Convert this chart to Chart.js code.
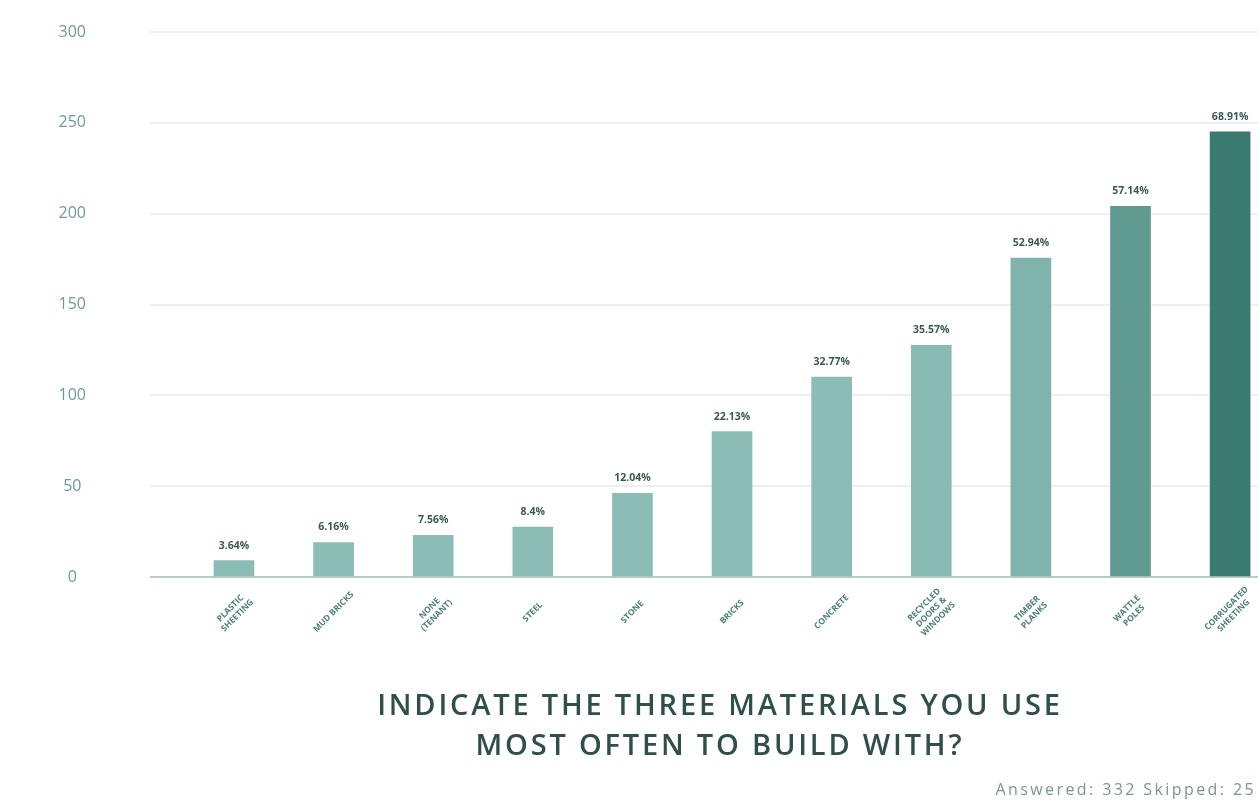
<!DOCTYPE html>
<html>
<head>
<meta charset="utf-8">
<script src="https://cdn.jsdelivr.net/npm/chart.js@4.4.1/dist/chart.umd.min.js"></script>
<style>
  html, body { margin: 0; padding: 0; background: #fff; overflow: hidden; }
  #wrap { position: relative; width: 1258px; height: 805px; }
  #barChart { display: block; }
  #title {
    position: absolute; left: 260px; width: 920px; top: 684px;
    text-align: center; font-family: "Open Sans", sans-serif; font-weight: 600;
    font-size: 29px; line-height: 40px; color: #2f4f4b; letter-spacing: 2.8px;
  }
  #footer {
    position: absolute; right: 2px; top: 778px;
    font-family: "Open Sans", sans-serif; font-size: 16px; color: #7a9793;
    letter-spacing: 2.4px;
  }
</style>
</head>
<body>
<div id="wrap">
  <canvas id="barChart" width="1258" height="805"></canvas>
  <div id="title">INDICATE THE THREE MATERIALS YOU USE<br>MOST OFTEN TO BUILD WITH?</div>
  <div id="footer">Answered: 332 Skipped: 25</div>
</div>
<script>
// categories (multi-line labels under each bar)
const categories = [
  ['PLASTIC', 'SHEETING'],
  ['MUD BRICKS'],
  ['NONE', '(TENANT)'],
  ['STEEL'],
  ['STONE'],
  ['BRICKS'],
  ['CONCRETE'],
  ['RECYCLED', 'DOORS &', 'WINDOWS'],
  ['TIMBER', 'PLANKS'],
  ['WATTLE', 'POLES'],
  ['CORRUGATED', 'SHEETING']
];
// responses per material
const counts = [9, 19, 23, 27.5, 46, 80, 110, 127.5, 175.5, 204, 245];
// percentages printed above the bars
const percents = ['3.64%', '6.16%', '7.56%', '8.4%', '12.04%', '22.13%', '32.77%', '35.57%', '52.94%', '57.14%', '68.91%'];
const yTicks = [0, 50, 100, 150, 200, 250, 300];

const barColors = ['#8bbcb5', '#8bbcb5', '#8bbcb5', '#8bbcb5', '#8bbcb5', '#8bbcb5',
                   '#8bbcb5', '#89bbb4', '#7fb3ab', '#5f9b91', '#3b7a70'];

// draws the rotated category labels and the percent labels
const labelPlugin = {
  id: 'labelPlugin',
  afterDatasetsDraw(chart) {
    const ctx = chart.ctx;
    const xs = chart.scales.x, ys = chart.scales.y;
    ctx.save();
    counts.forEach((v, i) => {
      const px = xs.getPixelForValue(i + 1);
      const top = ys.getPixelForValue(v);
      ctx.fillStyle = '#3a5956';
      ctx.font = 'bold 10.5px "Open Sans", sans-serif';
      ctx.textAlign = 'center';
      ctx.textBaseline = 'middle';
      ctx.fillText(percents[i], px, top - 15);

      const lines = categories[i];
      ctx.save();
      ctx.translate(px, 612);
      ctx.rotate(-Math.PI / 4);
      ctx.fillStyle = '#4d8079';
      ctx.font = 'bold 8.5px "Open Sans", sans-serif';
      const lh = 10;
      lines.forEach((t, k) => {
        ctx.fillText(t, 0, (k - (lines.length - 1) / 2) * lh);
      });
      ctx.restore();
    });
    ctx.restore();
  }
};

new Chart(document.getElementById('barChart').getContext('2d'), {
  type: 'bar',
  data: {
    datasets: [{
      data: counts.map((v, i) => ({ x: i + 1, y: v })),
      backgroundColor: barColors,
      barThickness: 40
    }]
  },
  options: {
    responsive: false,
    animation: false,
    layout: { padding: { top: 32, left: 0, right: 0, bottom: 0 } },
    plugins: { legend: { display: false }, tooltip: { enabled: false } },
    scales: {
      x: {
        type: 'linear',
        offset: false,
        min: 0.157,
        max: 11.28,
        grid: { display: false, offset: false },
        border: { display: false },
        ticks: { display: false },
        afterFit: (s) => { s.height = 228; s.paddingTop = 0; s.paddingBottom = 0; }
      },
      y: {
        min: 0,
        max: 300,
        afterBuildTicks: (s) => { s.ticks = yTicks.map(v => ({ value: v })); },
        border: { display: false },
        grid: {
          drawTicks: false,
          color: (c) => c.tick && c.tick.value === 0 ? '#b7cbc8' : '#efefef',
          lineWidth: 2
        },
        ticks: {
          crossAlign: 'center',
          padding: 64,
          color: '#6e9a94',
          font: { family: '"Open Sans", sans-serif', size: 16 }
        },
        afterFit: (s) => { s.width = 150; s.paddingTop = 0; s.paddingBottom = 0; }
      }
    }
  },
  plugins: [labelPlugin]
});
</script>
</body>
</html>
